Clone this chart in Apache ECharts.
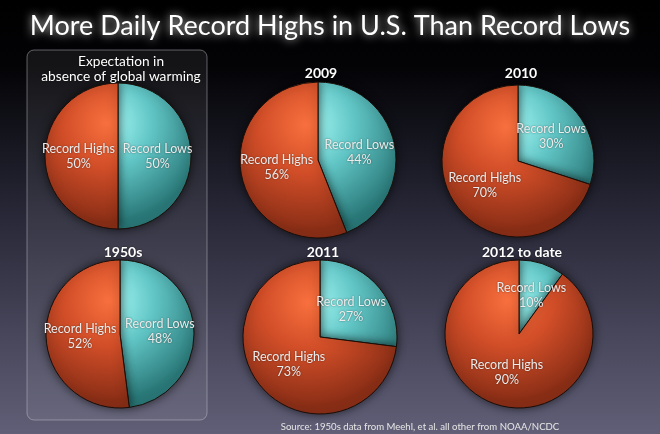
<!DOCTYPE html>
<html>
<head>
<meta charset="utf-8">
<script src="https://cdn.jsdelivr.net/npm/echarts@6/dist/echarts.min.js"></script>
<style>html,body{margin:0;padding:0;background:#000;}#c{width:660px;height:434px;}</style>
</head>
<body>
<div id="c"></div>
<script>
const chartTitle = 'More Daily Record Highs in U.S. Than Record Lows';
const sourceText = 'Source: 1950s data from Meehl, et al. all other from NOAA/NCDC';
const pieTitles = ['Expectation in\nabsence of global warming', '2009', '2010', '1950s', '2011', '2012 to date'];
const categories = ['Record Lows', 'Record Highs'];
const recordLows = [50, 44, 30, 48, 27, 10];
const recordHighs = [50, 56, 70, 52, 73, 90];

const layout = [
  {cx: 118, cy: 156, r: 73, ty: 49},
  {cx: 318, cy: 160, r: 78, ty: 61},
  {cx: 518, cy: 161, r: 76, ty: 61},
  {cx: 120, cy: 334, r: 74, ty: 240},
  {cx: 320, cy: 337, r: 77, ty: 240},
  {cx: 519, cy: 334, r: 74, ty: 240}
];
const FONT = 'Lato, "Open Sans", sans-serif';

function grad(l, light, mid, dark) {
  return {
    type: 'radial', global: true,
    x: l.cx - 0.15 * l.r, y: l.cy - 0.45 * l.r, r: 1.35 * l.r,
    colorStops: [{offset: 0, color: light}, {offset: 0.45, color: mid}, {offset: 1, color: dark}]
  };
}

const series = layout.map((l, i) => ({
  type: 'pie',
  center: [l.cx, l.cy],
  radius: [0, l.r],
  startAngle: 90,
  clockwise: true,
  silent: true,
  label: {
    show: true, position: 'inside', formatter: '{b}\n{c}%',
    color: '#ececec', fontFamily: FONT, fontSize: 12.5, lineHeight: 15,
    textShadowColor: 'rgba(0,0,0,0.5)', textShadowBlur: 2
  },
  labelLine: {show: false},
  itemStyle: {borderColor: '#1a0e08', borderWidth: 1, shadowBlur: 10, shadowColor: 'rgba(0,0,0,0.6)'},
  data: [
    {name: categories[0], value: recordLows[i],
     itemStyle: {color: grad(l, '#a8fbf6', '#62c6c6', '#2a7878')}},
    {name: categories[1], value: recordHighs[i],
     itemStyle: {color: grad(l, '#f8703e', '#d24e28', '#8a2e16')}}
  ]
}));

const titles = [{
  text: chartTitle, left: 'center', top: 8,
  textStyle: {color: '#ffffff', fontFamily: FONT, fontSize: 27, fontWeight: 'normal',
    textShadowColor: 'rgba(255,255,255,0.85)', textShadowBlur: 8}
}].concat(layout.map((l, i) => ({
  text: pieTitles[i], left: l.cx - 2, top: l.ty, textAlign: 'center',
  textStyle: {color: '#ffffff', fontFamily: FONT, fontSize: i === 0 ? 13.7 : 14,
    fontWeight: i === 0 ? 'normal' : 'bold', lineHeight: 15,
    textShadowColor: 'rgba(0,0,0,0.6)', textShadowBlur: 2}
}))).concat([{
  text: sourceText, left: 415, top: 417, textAlign: 'center',
  textStyle: {color: '#e6e6e6', fontFamily: FONT, fontSize: 9.6, fontWeight: 'normal'}
}]);

const chart = echarts.init(document.getElementById('c'), null, {renderer: 'canvas'});
chart.setOption({
  animation: false,
  backgroundColor: {
    type: 'linear', x: 0, y: 0, x2: 0, y2: 1,
    colorStops: [{offset: 0, color: '#000000'}, {offset: 0.15, color: '#030306'},
      {offset: 0.5, color: '#282838'}, {offset: 1, color: '#615f77'}]
  },
  graphic: [{
    type: 'rect', z: -1, silent: true,
    shape: {x: 27, y: 50, width: 180, height: 370, r: 7},
    style: {fill: 'rgba(255,255,255,0.07)', stroke: 'rgba(200,200,210,0.45)', lineWidth: 1}
  }],
  title: titles,
  series: series
});
</script>
</body>
</html>
